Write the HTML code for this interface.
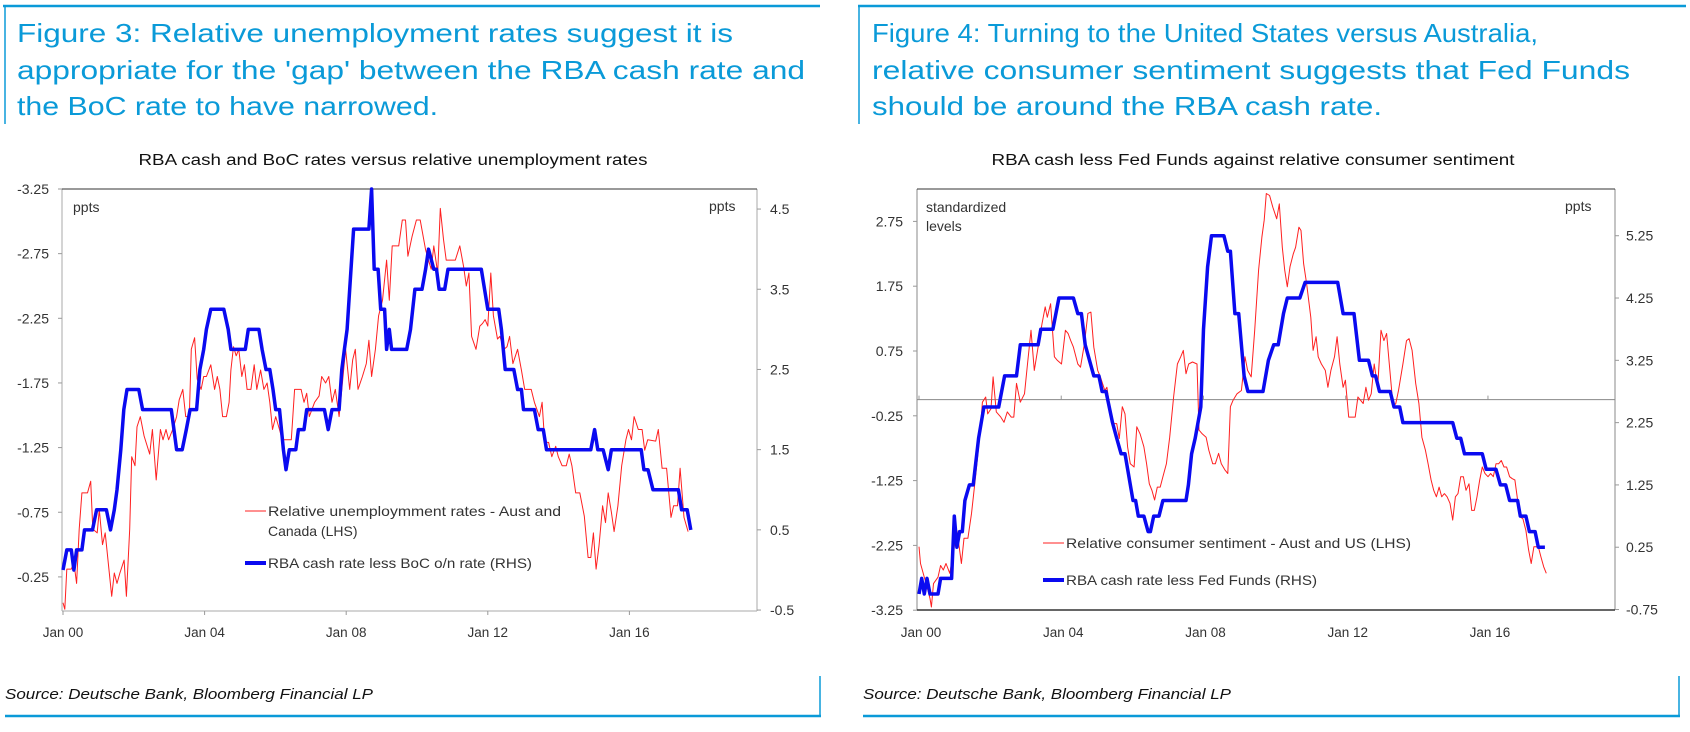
<!DOCTYPE html>
<html><head><meta charset="utf-8"><style>
html,body{margin:0;padding:0;background:#fff;}
svg{display:block;font-family:"Liberation Sans",Arial,sans-serif;}
</style></head><body>
<svg id="root" width="1690" height="732" viewBox="0 0 1690 732" xmlns="http://www.w3.org/2000/svg">
<g>
<line x1="3" y1="6" x2="820" y2="6" stroke="#0a9ad8" stroke-width="2.5"/>
<line x1="5" y1="6" x2="5" y2="124" stroke="#0a9ad8" stroke-width="1.5"/>
<text x="17" y="42" font-size="26" fill="#0a9ad8" textLength="716" lengthAdjust="spacingAndGlyphs">Figure 3: Relative unemployment rates suggest it is</text>
<text x="17" y="79" font-size="26" fill="#0a9ad8" textLength="788" lengthAdjust="spacingAndGlyphs">appropriate for the 'gap' between the RBA cash rate and</text>
<text x="17" y="115" font-size="26" fill="#0a9ad8" textLength="421" lengthAdjust="spacingAndGlyphs">the BoC rate to have narrowed.</text>
</g>
<g>
<line x1="858" y1="6" x2="1686" y2="6" stroke="#0a9ad8" stroke-width="2.5"/>
<line x1="859" y1="6" x2="859" y2="124" stroke="#0a9ad8" stroke-width="1.5"/>
<text x="872" y="42" font-size="26" fill="#0a9ad8" textLength="666" lengthAdjust="spacingAndGlyphs">Figure 4: Turning to the United States versus Australia,</text>
<text x="872" y="79" font-size="26" fill="#0a9ad8" textLength="758" lengthAdjust="spacingAndGlyphs">relative consumer sentiment suggests that Fed Funds</text>
<text x="872" y="115" font-size="26" fill="#0a9ad8" textLength="510" lengthAdjust="spacingAndGlyphs">should be around the RBA cash rate.</text>
</g>
<g>
<line x1="820" y1="676" x2="820" y2="716" stroke="#0a9ad8" stroke-width="1.5"/>
<line x1="5" y1="716" x2="821" y2="716" stroke="#0a9ad8" stroke-width="2.5"/>
<text x="5" y="699" font-size="15" font-style="italic" fill="#111" textLength="368" lengthAdjust="spacingAndGlyphs">Source: Deutsche Bank, Bloomberg Financial LP</text>
</g>
<g>
<line x1="1679" y1="676" x2="1679" y2="716" stroke="#0a9ad8" stroke-width="1.5"/>
<line x1="863" y1="716" x2="1680" y2="716" stroke="#0a9ad8" stroke-width="2.5"/>
<text x="863" y="699" font-size="15" font-style="italic" fill="#111" textLength="368" lengthAdjust="spacingAndGlyphs">Source: Deutsche Bank, Bloomberg Financial LP</text>
</g>
<g id="chart3"></g>
<g id="chart4"></g>
</svg>
<script>
// ---- Chart 3 data (months since Jan 2000) ----
const c3RedMonths=[0,0.6,1.3,2.8,3.7,4.6,5.5,6.4,8.3,9.4,10.1,11.6,12.3,13.4,14.3,16.5,17.4,18.3,19.3,20.7,21.5,22.6,23.3,24.4,25.1,26.2,27.5,29.4,30.3,31.6,33,33.9,34.9,35.8,37.2,38.5,39.4,40.6,41.6,42.8,43.5,44.6,45.5,46.8,47.7,48.6,50.1,51.4,52.3,53.2,54.1,55.4,56.3,56.9,57.8,58.7,59.6,60.6,61.5,62.4,63.7,64.8,65.7,67,68.1,69.2,70.1,71,72.1,73.4,74.3,75.6,77.4,78.5,80.7,81.7,82.6,83.5,85.3,86.8,87.7,89,90.1,91.2,92.3,93.6,94.5,95.8,97.2,98.2,99.1,100,101.5,102.8,103.7,104.6,105.9,107,108.3,109.7,110.6,111.6,113.8,115,116.1,116.9,118.3,119.8,121.1,122.9,123.9,124.8,125.7,127,127.9,129,129.9,133,134.5,135.8,136.7,137.6,138.5,140,141.3,142.2,143.1,144,145,145.9,147.3,148.1,149.5,150.5,151.4,152.5,154.1,155.4,156.5,158.7,159.8,161.5,162.4,163.3,164.6,165.7,167,167.9,169.2,170.6,171.6,172.5,173.8,175.2,176.7,178,178.9,179.8,180.7,181.7,182.9,183.9,184.8,185.9,186.8,188.1,189.4,190.8,191.7,192.7,193.6,195,196.3,197.2,198.2,200.9,201.8,203.1,204.6,206.1,207,208.3,209.2,210.5,211.9];
const c3RedValues=[-0.05,0,-0.31,-0.31,-0.36,-0.2,-0.62,-0.9,-0.9,-0.99,-0.62,-0.59,-0.77,-0.5,-0.59,-0.1,-0.28,-0.2,-0.28,-0.38,-0.1,-0.62,-1.18,-1.11,-1.41,-1.49,-1.34,-1.2,-1.39,-1,-1.39,-1.31,-1.39,-1.31,-1.39,-1.49,-1.62,-1.7,-1.49,-1.49,-2.01,-2.1,-1.78,-1.7,-1.8,-1.8,-1.89,-1.7,-1.8,-1.7,-1.49,-1.49,-1.6,-1.85,-2.03,-1.96,-2.01,-1.8,-1.89,-1.7,-1.7,-1.89,-1.7,-1.85,-1.7,-1.75,-1.6,-1.39,-1.49,-1.39,-1.31,-1.31,-1.31,-1.7,-1.7,-1.6,-1.67,-1.49,-1.6,-1.65,-1.8,-1.75,-1.8,-1.6,-1.7,-1.49,-1.7,-2.01,-1.7,-1.93,-2.01,-1.7,-1.8,-1.9,-2.08,-1.8,-2.01,-2.27,-2.39,-2.7,-2.39,-2.81,-2.81,-3.01,-3.01,-2.73,-2.88,-3.01,-3.01,-2.78,-2.7,-2.63,-2.81,-2.6,-3.1,-2.86,-2.7,-2.7,-2.81,-2.65,-2.5,-2.6,-2.11,-2.01,-2.19,-2.21,-2.24,-2.19,-2.6,-2.27,-2.09,-2.11,-2.01,-2.03,-2.11,-1.9,-2.01,-1.85,-1.7,-1.7,-1.6,-1.49,-1.6,-1.29,-1.29,-1.18,-1.26,-1.18,-1.11,-1.11,-1.2,-1.11,-0.9,-0.9,-0.72,-0.4,-0.4,-0.59,-0.31,-0.49,-0.8,-0.67,-0.9,-0.75,-0.6,-0.8,-1.11,-1.31,-1.39,-1.31,-1.49,-1.39,-1.39,-1.23,-1.31,-1.3,-1.39,-1.09,-1.09,-0.71,-0.8,-0.8,-1.09,-0.71,-0.6];
const c3BlueMonths=[0,1.3,2.8,3.7,4.6,6.4,7.3,10,11.4,14.7,16.1,17.4,18.3,19.6,20.6,21.7,25.7,27,36.7,38.5,40.4,41.8,43.1,45.3,46.4,47.7,48.6,50.1,54.5,56,56.9,61.8,62.8,66.4,67.5,68.8,70.1,71.2,72.1,73.4,74.7,75.6,76.7,78.9,79.8,81.7,82.6,88.6,89.9,91.2,93.6,94.5,95.4,96.3,97.2,98.5,103.7,104.6,105.5,106.8,107.7,109,109.7,110.6,111.4,116.5,117.8,119.3,121.7,122.9,123.9,125.7,126.6,127.5,129.4,130.5,141.8,144,147.7,148.6,149.9,152.8,154.1,155.4,156.1,159.8,161.1,162.8,163.9,178.9,180.2,181.3,183.1,184.8,185.9,196,196.9,198.3,200,208.6,209.7,211.6,212.8];
const c3BlueValues=[0,0.25,0.25,0,0.25,0.25,0.5,0.5,0.75,0.75,0.5,0.75,1,1.5,2,2.25,2.25,2,2,1.5,1.5,1.75,2,2,2.5,2.75,3,3.25,3.25,3,2.75,2.75,3,3,2.75,2.5,2.5,2.25,2,2,1.5,1.25,1.5,1.5,1.75,1.75,2,2,1.75,2,2,2.5,2.75,3,3.5,4.25,4.25,4.75,3.75,3.75,3.25,3.25,2.75,3,2.75,2.75,3,3.5,3.5,3.75,4,3.75,3.75,3.5,3.5,3.75,3.75,3.25,3.25,3,2.5,2.5,2.25,2.25,2,2,1.75,1.75,1.5,1.5,1.75,1.5,1.5,1.25,1.5,1.5,1.25,1.25,1,1,0.75,0.75,0.5];
const c3LeftTicks=[-3.25,-2.75,-2.25,-1.75,-1.25,-0.75,-0.25];
const c3RightTicks=[4.5,3.5,2.5,1.5,0.5,-0.5];
const xTickLabels=["Jan 00","Jan 04","Jan 08","Jan 12","Jan 16"];
const xTickMonths=[0,48,96,144,192];
// ---- Chart 4 data ----
const c4RedMonths=[0,0.5,1.8,2.7,3.7,4.2,4.9,6.4,7.3,8.2,9.1,10.4,11.5,12.8,13.7,14.3,15.2,16.5,17.7,19.2,20.7,21.4,22.5,23.2,24.3,25,26.1,27.6,28.7,29.8,31.1,32,32.9,34.2,35.6,36.6,37.8,38.9,40.2,41.5,42.6,43.3,44.4,45.7,46.6,48.1,49.4,50.3,51.2,52.1,53.6,54.5,55.8,57,58,59,60.3,61.2,62.7,63.4,64.9,65.8,66.7,67.6,68.6,69.5,70.4,71.3,72.6,73.5,74.6,75.9,76.8,77.7,78.6,79.5,80.4,81.4,82.3,83.5,84.6,85.9,87.2,88.3,89.2,90.1,91,92.3,93.8,94.5,95.6,96.9,97.8,99.1,100,101.1,102,103.3,104.2,105.1,106,107.3,108.8,110,110.9,112.1,113.3,114.6,115.7,116.5,117.2,118.3,119.4,120.7,121.6,122.6,123.4,124.3,125.2,126.3,127.1,128.2,128.9,129.8,130.8,132.2,133,134,134.7,135.8,137.1,138,139,140.2,141.1,142,143.1,143.9,145,146.3,147.2,148.1,149,149.9,150.8,151.7,152.6,153.6,154.8,155.9,156.9,157.8,158.7,160,160.9,161.8,163.3,164.5,165.4,166.4,167.6,168.7,169.7,170.9,171.8,172.8,173.7,174.6,175.5,176.4,177.3,178.2,179.2,180.1,181,181.9,182.8,183.7,184.6,185.6,186.5,187.4,188.3,189.2,190.1,191,192,192.9,193.8,194.7,195.6,196.5,197.4,198.3,199.3,200.2,201.1,202,202.9,203.8,204.8,205.7,206.6,207.5,209,209.9,210.8,211.7];
const c4RedValues=[-2.27,-2.53,-2.74,-2.89,-3.07,-3.2,-2.84,-2.74,-2.56,-2.63,-2.53,-2.68,-2.38,-2.02,-2.32,-2.53,-2.14,-2.14,-1.76,-1.14,-0.47,-0.04,0.04,-0.22,-0.14,0.35,-0.19,-0.27,-0.35,-0.19,-0.27,-0.27,0.25,-0.04,0.09,0.55,1.07,0.45,0.81,1.17,1.43,1.27,1.48,0.66,0.61,0.55,1.07,1.02,0.91,0.81,0.55,0.5,0.86,1.33,1.35,0.81,0.45,0.35,0.14,0.19,-0.27,-0.37,-0.37,-0.6,-0.11,-0.22,-0.73,-0.99,-1.04,-0.42,-0.53,-0.73,-0.99,-1.3,-1.4,-1.55,-1.35,-1.35,-1.19,-0.99,-0.58,0.04,0.55,0.66,0.76,0.4,0.55,0.58,0.55,-0.47,-0.53,-0.58,-0.78,-0.99,-0.99,-0.83,-0.99,-1.09,-1.14,-0.11,-0.01,0.09,0.14,0.66,0.45,0.35,1.07,2,2.51,2.77,3.18,3.15,2.97,2.79,3.02,2.35,2,1.74,2.05,2.25,2.35,2.66,2.61,2.1,1.79,1.27,0.76,0.97,0.66,0.55,0.45,0.19,0.45,0.66,0.97,0.55,0.19,0.3,-0.27,-0.27,-0.27,0.04,-0.01,-0.06,0.19,-0.01,0.09,0.55,0.19,1.07,0.91,1.02,0.55,-0.11,-0.06,0.14,0.55,0.91,0.94,0.76,0.25,-0.06,-0.58,-0.78,-0.99,-1.24,-1.4,-1.5,-1.35,-1.5,-1.45,-1.5,-1.6,-1.86,-1.5,-1.45,-1.19,-1.19,-1.4,-1.3,-1.71,-1.71,-1.5,-1.24,-1.04,-1.14,-1.19,-1.14,-1.19,-0.99,-0.99,-0.94,-1.04,-1.04,-1.19,-1.22,-1.24,-1.55,-1.81,-1.84,-2.02,-2.32,-2.53,-2.27,-2.27,-2.43,-2.58,-2.68];
const c4BlueMonths=[0,0.9,1.8,2.7,3.7,6.4,7.3,11,11.9,12.8,13.7,14.6,15.5,17,18.3,20.1,21.9,26.9,28.9,32.9,34.2,40.2,41.1,45.2,47.2,52.1,53.6,54.8,56.1,59,60.7,61.8,63.1,65.3,66.7,68.2,69.5,72.2,73.1,74,75.9,77.3,78.1,79.2,81,82.3,90.1,90.9,92,93.2,95.1,96,97.4,98.7,102.9,104.2,105.1,106.6,107.9,109.7,111,116.1,117.9,119.7,121.2,123,124.3,128.5,130.3,141.3,143.1,146.8,148.6,151.7,153,154.1,155.4,159,160.3,162.2,163.3,180.1,181.5,182.8,184.1,190.1,191.4,194.7,196.2,198,199.3,202,202.9,204.8,206,207.9,209,211.2];
const c4BlueValues=[-0.5,-0.25,-0.5,-0.25,-0.5,-0.5,-0.25,-0.25,0.75,0.25,0.5,0.5,1,1.25,1.25,2,2.5,2.5,3,3,3.5,3.5,3.75,3.75,4.25,4.25,4,4,3.5,3,3,2.75,2.75,2.25,2,1.75,1.75,1,1,0.75,0.75,0.5,0.5,0.75,0.75,1,1,1.25,1.75,2,2.5,3.75,4.75,5.25,5.25,5,5,4,4,3,2.75,2.75,3.25,3.5,3.5,4,4.25,4.25,4.5,4.5,4,4,3.25,3.25,3,3,2.75,2.75,2.5,2.5,2.25,2.25,2,2,1.75,1.75,1.5,1.5,1.25,1.25,1,1,0.75,0.75,0.5,0.5,0.25,0.25];
const c4LeftTicks=[2.75,1.75,0.75,-0.25,-1.25,-2.25,-3.25];
const c4RightTicks=[5.25,4.25,3.25,2.25,1.25,0.25,-0.75];

const NS="http://www.w3.org/2000/svg";
function mk(parent,tag,attrs,text){const e=document.createElementNS(NS,tag);for(const k in attrs)e.setAttribute(k,attrs[k]);if(text!==undefined)e.textContent=text;parent.appendChild(e);return e;}
function pathD(ms,vs,fx,fy){return ms.map((m,i)=>(i?"L":"M")+fx(m).toFixed(1)+","+fy(vs[i]).toFixed(1)).join("");}

// ---- Chart 3 ----
(function(){
const g=document.getElementById("chart3");
const L=62,R=757,T=189,B=611;
const x=m=>63+m*35.4/12;
const yL=v=>T+(v+3.25)*129.3;
const yR=v=>T+(4.75-v)*80.2;
let t=mk(g,"text",{x:393,y:165,"font-size":15.5,"text-anchor":"middle",fill:"#111",textLength:509,lengthAdjust:"spacingAndGlyphs"},"RBA cash and BoC rates versus relative unemployment rates");


let a=mk(g,"line",{x1:L,y1:T,x2:L,y2:B,stroke:"#aaa"});


a=mk(g,"line",{x1:R,y1:T,x2:R,y2:B,stroke:"#aaa"});


a=mk(g,"line",{x1:L,y1:T,x2:R,y2:T,stroke:"#333"});


a=mk(g,"line",{x1:L,y1:B,x2:R,y2:B,stroke:"#aaa"});


c3LeftTicks.forEach(v=>{mk(g,"line",{x1:L-4,y1:yL(v),x2:L,y2:yL(v),stroke:"#999"});
 const e=mk(g,"text",{x:L-13,y:yL(v)+5,"font-size":14,"text-anchor":"end",fill:"#333"},String(v));
 
 });
c3RightTicks.forEach(v=>{mk(g,"line",{x1:R,y1:yR(v),x2:R+4,y2:yR(v),stroke:"#999"});
 const e=mk(g,"text",{x:R+13,y:yR(v)+5,"font-size":14,fill:"#333"},String(v));
 
 });
xTickMonths.forEach((m,i)=>{mk(g,"line",{x1:x(m),y1:B,x2:x(m),y2:B+4,stroke:"#999"});
 const e=mk(g,"text",{x:x(m),y:637,"font-size":13.5,"text-anchor":"middle",fill:"#333"},xTickLabels[i]);
 
 });
let u=mk(g,"text",{x:73,y:212,"font-size":14,fill:"#333"},"ppts");


u=mk(g,"text",{x:709,y:211,"font-size":14,fill:"#333"},"ppts");


let s=mk(g,"path",{d:pathD(c3RedMonths,c3RedValues,x,yL),fill:"none",stroke:"#ff2020","stroke-width":1,"stroke-linejoin":"round"});


s=mk(g,"path",{d:pathD(c3BlueMonths,c3BlueValues,x,yR),fill:"none",stroke:"#0a0af0","stroke-width":3.5,"stroke-linejoin":"round"});


const lg=mk(g,"g",{});


mk(lg,"line",{x1:245,y1:511,x2:266,y2:511,stroke:"#ff2020"});
mk(lg,"text",{x:268,y:516,"font-size":14,fill:"#333",textLength:293,lengthAdjust:"spacingAndGlyphs"},"Relative unemploymment rates - Aust and");
mk(lg,"text",{x:268,y:536,"font-size":14,fill:"#333"},"Canada (LHS)");
mk(lg,"line",{x1:245,y1:563,x2:266,y2:563,stroke:"#0a0af0","stroke-width":4});
mk(lg,"text",{x:268,y:568,"font-size":14,fill:"#333",textLength:264,lengthAdjust:"spacingAndGlyphs"},"RBA cash rate less BoC o/n rate (RHS)");
})();

// ---- Chart 4 ----
(function(){
const g=document.getElementById("chart4");
const L=917,R=1615,T=189,B=610;
const x=m=>919+m*35.56/12;
const yL=v=>T+(3.25-v)*64.8;
const yR=v=>T+(6.0-v)*62.3;
let t=mk(g,"text",{x:1253,y:165,"font-size":15.5,"text-anchor":"middle",fill:"#111",textLength:523,lengthAdjust:"spacingAndGlyphs"},"RBA cash less Fed Funds against relative consumer sentiment");


let a=mk(g,"line",{x1:L,y1:T,x2:L,y2:B,stroke:"#888"});


a=mk(g,"line",{x1:R,y1:T,x2:R,y2:B,stroke:"#888"});


a=mk(g,"line",{x1:L,y1:T,x2:R,y2:T,stroke:"#333"});


a=mk(g,"line",{x1:L,y1:B,x2:R,y2:B,stroke:"#333","stroke-width":1.5});


a=mk(g,"line",{x1:L,y1:yL(0),x2:R,y2:yL(0),stroke:"#888"});


c4LeftTicks.forEach(v=>{mk(g,"line",{x1:L-4,y1:yL(v),x2:L,y2:yL(v),stroke:"#999"});
 const e=mk(g,"text",{x:L-14,y:yL(v)+5,"font-size":14,"text-anchor":"end",fill:"#333"},v.toFixed(2));
 
 });
c4RightTicks.forEach(v=>{mk(g,"line",{x1:R,y1:yR(v),x2:R+4,y2:yR(v),stroke:"#999"});
 const e=mk(g,"text",{x:R+11,y:yR(v)+5,"font-size":14,fill:"#333"},v.toFixed(2));
 
 });
xTickMonths.forEach((m,i)=>{mk(g,"line",{x1:x(m),y1:yL(0),x2:x(m),y2:yL(0)-4,stroke:"#999"});
 const e=mk(g,"text",{x:x(m)+2,y:637,"font-size":13.5,"text-anchor":"middle",fill:"#333"},xTickLabels[i]);
 
 });
let u=mk(g,"text",{x:926,y:212,"font-size":14,fill:"#333"},"standardized");


u=mk(g,"text",{x:926,y:231,"font-size":14,fill:"#333"},"levels");


u=mk(g,"text",{x:1565,y:211,"font-size":14,fill:"#333"},"ppts");


let s=mk(g,"path",{d:pathD(c4RedMonths,c4RedValues,x,yL),fill:"none",stroke:"#ff2020","stroke-width":1,"stroke-linejoin":"round"});


s=mk(g,"path",{d:pathD(c4BlueMonths,c4BlueValues,x,yR),fill:"none",stroke:"#0a0af0","stroke-width":3.5,"stroke-linejoin":"round"});


const lg=mk(g,"g",{});


mk(lg,"line",{x1:1043,y1:543,x2:1064,y2:543,stroke:"#ff2020"});
mk(lg,"text",{x:1066,y:548,"font-size":14,fill:"#333",textLength:345,lengthAdjust:"spacingAndGlyphs"},"Relative consumer sentiment - Aust and US (LHS)");
mk(lg,"line",{x1:1043,y1:580,x2:1064,y2:580,stroke:"#0a0af0","stroke-width":4});
mk(lg,"text",{x:1066,y:585,"font-size":14,fill:"#333",textLength:251,lengthAdjust:"spacingAndGlyphs"},"RBA cash rate less Fed Funds (RHS)");
})();
</script>
</body></html>
